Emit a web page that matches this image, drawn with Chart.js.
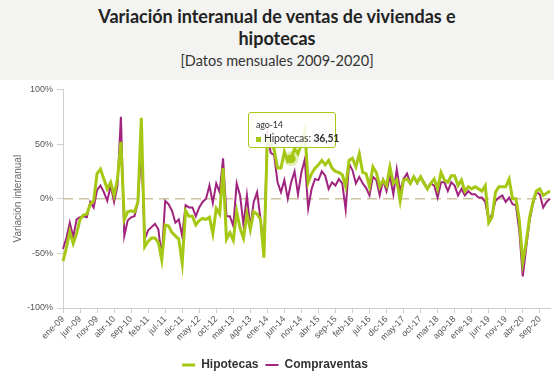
<!DOCTYPE html>
<html lang="es">
<head>
<meta charset="utf-8">
<script src="https://cdn.jsdelivr.net/npm/chart.js@4"></script>
<style>
html, body { margin: 0; padding: 0; background: #fff; }
body { width: 554px; height: 373px; overflow: hidden; font-family: Lato, "Noto Sans", sans-serif; }
#cabecera { height: 80px; background: #f3f3f1; text-align: center; color: #222; }
#cabecera h1 { margin: 0; padding-top: 5px; font-size: 18px; line-height: 22px; font-weight: 700; }
#cabecera p { margin: 3px 0 0; font-size: 14.5px; line-height: 18px; color: #333; }
#zona { position: relative; width: 554px; height: 293px; }
#tip { position: absolute; box-sizing: border-box; width: 88px; height: 36px; background: rgba(255,255,255,0.88);
       border: 1px solid #a5c814; border-radius: 3px; padding: 6px 0 0 7px; color: #333; white-space: nowrap; letter-spacing: -0.2px; }
#tip .t { font-size: 9px; line-height: 12px; }
#tip .l { font-size: 10.5px; line-height: 14px; }
#tip .c { display: inline-block; width: 5px; height: 5px; background: #a5c814; margin-right: 3px; vertical-align: middle; }
</style>
</head>
<body>
<div id="cabecera">
  <h1>Variación interanual de ventas de viviendas e<br>hipotecas</h1>
  <p>[Datos mensuales 2009-2020]</p>
</div>
<div id="zona">
  <canvas id="grafico" width="554" height="293"></canvas>
  <div id="tip"></div>
</div>
<script>
// meses (ene-09 ... dic-20)
var mesesCortos = ['ene', 'feb', 'mar', 'abr', 'may', 'jun', 'jul', 'ago', 'sep', 'oct', 'nov', 'dic'];
var anios = ['09', '10', '11', '12', '13', '14', '15', '16', '17', '18', '19', '20'];
var meses = [];
anios.forEach(function (a) {
    mesesCortos.forEach(function (m) { meses.push(m + '-' + a); });
});

// variación interanual (%)
var hipotecas = [
    -57, -45, -30, -41, -32, -19, -15, -14, -5, -2,
    23, 27, 18, 9, 15, 3, 18, 52, -19, -12,
    -11, -12, -3, 74, -44, -39, -36, -36, -40, -56,
    -24, -25, -31, -34, -37, -59, -11, -16, -16, -24,
    -20, -18, -19, -17, -32, -9, -14, 28, -37, -31,
    -38, -12, -27, -36, -14, -28, -12, -14, -19, -54,
    55, 52, 45, 28, 28, 43, 34, 36.51, 46, 41,
    50, 62, 15, 23, 28, 31, 35, 31, 35, 28,
    25, 24, 22, 11, 35, 37, 29, 41, 24, 23,
    11, 29, 24, 11, 17, 12, 29, 14, 17, -2,
    17, 18, 14, 20, 15, 20, 14, 9, 14, 18,
    9, 24, 17, 15, 21, 21, 12, 17, 7, 11,
    9, 11, 9, 7, 12, -22, -17, 6, 11, 11,
    11, 18, 0, 0, -20, -58, -40, -17, -3, 7,
    9, 3, 5, 7
];
var compraventas = [
    -46, -36, -22, -35, -19, -17, -16, -17, -3, -8,
    8, 12, 6, -2, 12, -3, 12, 75, -34, -20,
    -17, -16, -3, 46, -37, -29, -26, -23, -28, -54,
    -2, -5, -11, -22, -19, -34, -6, -8, -8, -16,
    -8, -3, 0, 12, -4, 14, 6, 37, -16, -16,
    -25, 14, 3, -24, 3, -27, -3, 6, -19, -46,
    60, 42, 40, 15, 6, 17, 0, 15, 25, 4,
    24, 36, -9, 9, 18, 17, 25, 21, 9, 15,
    12, 18, 14, -10, 32, 26, 14, 20, 14, 10,
    3, 20, 17, 3, 17, 7, 21, 4, 27, 7,
    18, 23, 14, 20, 14, 20, 15, 9, 14, 12,
    1, 15, 15, 7, 15, 12, 3, 9, 3, 7,
    4, 4, 1, 1, -3, -20, -14, -2, 1, 3,
    -3, 1, -5, -6, -30, -71, -45, -20, -5, 6,
    4, -8, -3, 0
];
var ticksY = [-100, -50, 0, 50, 100];
var puntoActivo = 67; // ago-14

var verde = '#a5c814';
var morado = '#a0237e';

// línea discontinua en 0% y punto resaltado
var extras = {
    id: 'extras',
    beforeInit: function (chart) {
        // altura fija de la leyenda
        var leyenda = chart.legend;
        var fitOriginal = leyenda.fit;
        leyenda.fit = function () {
            fitOriginal.call(this);
            this.height = 21;
        };
    },
    beforeDatasetsDraw: function (chart) {
        var ctx = chart.ctx, area = chart.chartArea;
        var py = chart.scales.y.getPixelForValue(0);
        ctx.save();
        ctx.strokeStyle = '#cbc49e';
        ctx.lineWidth = 1.5;
        ctx.setLineDash([10, 6]);
        ctx.beginPath();
        ctx.moveTo(area.left, py);
        ctx.lineTo(area.right, py);
        ctx.stroke();
        ctx.restore();
    },
    afterDatasetsDraw: function (chart) {
        var p = chart.getDatasetMeta(0).data[puntoActivo];
        var ctx = chart.ctx;
        ctx.save();
        ctx.fillStyle = 'rgba(165,200,20,0.3)';
        ctx.beginPath(); ctx.arc(p.x, p.y, 7.5, 0, Math.PI * 2); ctx.fill();
        ctx.fillStyle = verde;
        ctx.beginPath(); ctx.arc(p.x, p.y, 4.5, 0, Math.PI * 2); ctx.fill();
        ctx.restore();
    }
};

var ctx = document.getElementById('grafico');
var chart = new Chart(ctx, {
    type: 'line',
    data: {
        labels: meses,
        datasets: [{
            label: 'Hipotecas',
            data: hipotecas,
            borderColor: verde,
            backgroundColor: verde,
            borderWidth: 3,
            pointRadius: 0,
            tension: 0
        }, {
            label: 'Compraventas',
            data: compraventas,
            borderColor: morado,
            backgroundColor: morado,
            borderWidth: 2,
            pointRadius: 0,
            tension: 0
        }]
    },
    options: {
        responsive: false,
        animation: false,
        events: [],
        layout: { padding: { top: 9, right: 4, left: 0, bottom: 0 } },
        scales: {
            x: {
                grid: { drawOnChartArea: false, tickLength: 5, color: '#cfcfcf' },
                border: { color: '#cfcfcf' },
                ticks: {
                    autoSkip: false,
                    maxRotation: 45,
                    minRotation: 45,
                    padding: 1,
                    color: '#555',
                    font: { size: 9 },
                    callback: function (v, i) { return i % 5 === 0 ? meses[i] : null; }
                },
                afterFit: function (s) { s.height = 44; }
            },
            y: {
                min: -100,
                max: 100,
                afterBuildTicks: function (s) { s.ticks = ticksY.map(function (v) { return { value: v }; }); },
                grid: { drawOnChartArea: false, tickLength: 6, color: '#cfcfcf' },
                border: { color: '#cfcfcf' },
                ticks: {
                    padding: 4,
                    color: '#555',
                    font: { size: 9 },
                    callback: function (v) { return v + '%'; }
                },
                title: {
                    display: true,
                    text: 'Variación interanual',
                    color: '#666',
                    font: { size: 10 },
                    padding: { top: 12, bottom: 0 }
                },
                afterFit: function (s) { s.width = 63; }
            }
        },
        plugins: {
            legend: {
                position: 'bottom',
                labels: {
                    usePointStyle: true,
                    pointStyle: 'line',
                    pointStyleWidth: 13,
                    boxHeight: 10,
                    padding: 7,
                    color: '#333',
                    font: { size: 12, weight: 'bold' }
                }
            },
            tooltip: { enabled: false }
        }
    },
    plugins: [extras]
});

// tooltip fijo en ago-14
var pt = chart.getDatasetMeta(0).data[puntoActivo];
var tip = document.getElementById('tip');
tip.innerHTML = '<div class="t">' + meses[puntoActivo] + '</div>' +
    '<div class="l"><span class="c"></span>Hipotecas: <b>' +
    hipotecas[puntoActivo].toFixed(2).replace('.', ',') + '</b></div>';
tip.style.left = Math.round(pt.x - tip.offsetWidth / 2 + 1) + 'px';
tip.style.top = Math.round(pt.y - 11 - tip.offsetHeight) + 'px';
</script>
</body>
</html>
